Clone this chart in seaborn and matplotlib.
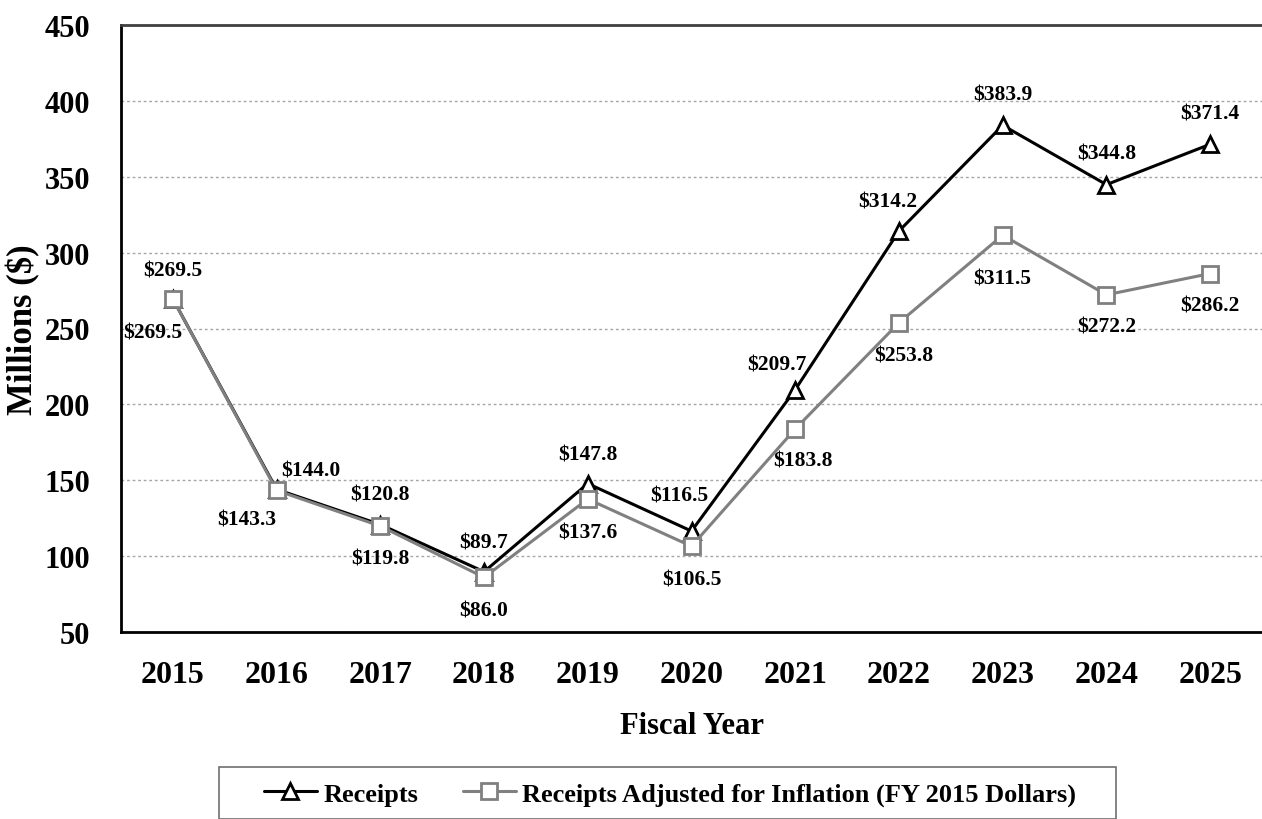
import matplotlib
matplotlib.use("Agg")
import matplotlib.pyplot as plt
from matplotlib.ticker import FixedLocator
from matplotlib.patches import Rectangle
import seaborn as sns
import pandas as pd
import numpy as np

# data
years = ["2015", "2016", "2017", "2018", "2019", "2020", "2021", "2022", "2023", "2024", "2025"]
receipts = [269.5, 144.0, 120.8, 89.7, 147.8, 116.5, 209.7, 314.2, 383.9, 344.8, 371.4]
adjusted = [269.5, 143.3, 119.8, 86.0, 137.6, 106.5, 183.8, 253.8, 311.5, 272.2, 286.2]
series_names = ["Receipts", "Receipts Adjusted for Inflation (FY 2015 Dollars)"]

# where each value label sits relative to its point (pixels, x right / y up)
receipt_offsets = [(0, 28), (34, 19), (0, 30), (0, 29), (0, 29), (-12, 36),
                   (-18, 25), (-11, 30), (0, 31), (0, 31), (0, 31)]
adjusted_offsets = [(-20, -34), (-30, -29), (0, -32), (0, -33), (0, -33), (0, -33),
                    (8, -32), (5, -33), (0, -43), (0, -32), (0, -32)]

sns.set_style("white")
plt.rcParams["font.family"] = ["Liberation Serif", "DejaVu Serif"]
plt.rcParams["font.weight"] = "bold"
plt.rcParams["text.color"] = "black"
plt.rcParams["axes.labelcolor"] = "black"
plt.rcParams["xtick.labelcolor"] = "black"
plt.rcParams["ytick.labelcolor"] = "black"

df = pd.DataFrame({"pos": np.arange(len(years)), "receipts": receipts, "adjusted": adjusted})

fig = plt.figure(figsize=(12.62, 8.2), dpi=100)
ax = fig.add_axes([121 / 1262, 1 - 633 / 820, 1141 / 1262, 607 / 820])

sns.lineplot(data=df, x="pos", y="receipts", ax=ax, color="black", linewidth=2.2,
             marker="^", markersize=12, markerfacecolor="white", markeredgecolor="black",
             markeredgewidth=2, label=series_names[0], legend=False, zorder=3)
sns.lineplot(data=df, x="pos", y="adjusted", ax=ax, color="#808080", linewidth=2.2,
             marker="s", markersize=11, markerfacecolor="white", markeredgecolor="#808080",
             markeredgewidth=2, label=series_names[1], legend=False, zorder=4)

for i in range(len(years)):
    dx, dy = receipt_offsets[i]
    ax.annotate(f"${receipts[i]:.1f}", (df["pos"][i], receipts[i]), xytext=(dx, dy),
                textcoords="offset pixels", ha="center", va="center",
                fontsize=15.5, fontweight="bold", color="black")
    dx, dy = adjusted_offsets[i]
    ax.annotate(f"${adjusted[i]:.1f}", (df["pos"][i], adjusted[i]), xytext=(dx, dy),
                textcoords="offset pixels", ha="center", va="center",
                fontsize=15.5, fontweight="bold", color="black")

ax.set_xlim(-0.5, len(years) - 0.5)
ax.set_ylim(50, 450)
ax.set_yticks(np.arange(50, 451, 50))
ax.set_xticks(df["pos"])
ax.set_xticklabels(years)
ax.xaxis.set_minor_locator(FixedLocator(np.arange(-0.5, len(years) - 0.5, 1.0)))
ax.tick_params(axis="x", which="major", length=0, pad=20, labelsize=23)
ax.tick_params(axis="x", which="minor", length=8, width=1.3, direction="out", color="#404040")
ax.tick_params(axis="y", length=9, width=1.3, direction="out", pad=13, labelsize=22, color="#404040")

ax.yaxis.grid(True, linestyle=(0, (2, 2)), color="#a6a6a6", linewidth=1)
ax.xaxis.grid(False)

for side in ["left", "bottom"]:
    ax.spines[side].set_color("black")
    ax.spines[side].set_linewidth(2)
ax.spines["top"].set_color("#404040")
ax.spines["top"].set_linewidth(2)
ax.spines["right"].set_visible(False)

ax.set_xlabel("Fiscal Year", fontsize=22, fontweight="bold", labelpad=16)
ax.set_ylabel("Millions ($)", fontsize=25, fontweight="bold")
ax.yaxis.set_label_coords(-0.071, 0.5)

# legend box runs off the bottom of the figure in the reference
fig.patches.append(Rectangle((219 / 1262, 0), 897 / 1262, 52 / 820, transform=fig.transFigure,
                             facecolor="white", edgecolor="#707070", linewidth=1.2))
handles, labels = ax.get_legend_handles_labels()
fig.legend(handles, labels, loc="center", bbox_to_anchor=(670 / 1262, 1 - 795 / 820),
           ncol=2, frameon=False, prop={"size": 19, "weight": "bold"},
           handlelength=2.0, handletextpad=0.25, columnspacing=1.7, borderpad=0.3)

fig.savefig("out.png", dpi=100)
